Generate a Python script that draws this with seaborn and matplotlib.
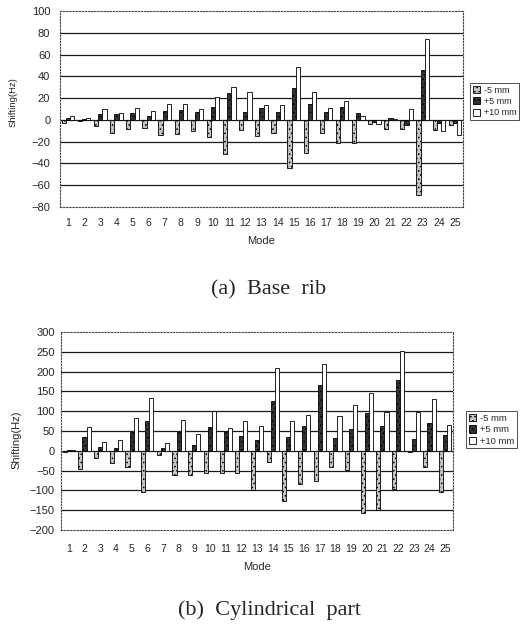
import matplotlib
matplotlib.use("Agg")
import matplotlib.pyplot as plt
import numpy as np
import pandas as pd
import seaborn as sns

# ---- data: frequency shift per mode for three thickness changes ----
modes = list(range(1, 26))
cases = ["-5 mm", "+5 mm", "+10 mm"]

base_m5 = [-3, -1, -6, -12, -8, -7, -14, -13, -10, -16, -31, -9, -15,
           -12, -44, -30, -12, -21, -21, -4, -8, -8, -69, -9, -5]
base_p5 = [2, 1, 5, 5, 6, 4, 8, 9, 7, 12, 25, 7, 11,
           7, 29, 15, 7, 12, 6, -2, 2, -5, 46, -3, -3]
base_p10 = [4, 2, 10, 6, 11, 8, 15, 15, 10, 21, 30, 26, 14,
            14, 49, 26, 11, 17, 4, -4, 1, 10, 74, -10, -14]

cyl_m5 = [-3, -45, -19, -30, -41, -103, -10, -62, -62, -55, -55, -55, -100,
          -28, -127, -85, -76, -42, -49, -158, -150, -97, -3, -42, -103]
cyl_p5 = [2, 36, 10, 6, 47, 76, 8, 47, 15, 60, 47, 38, 27,
          125, 34, 62, 165, 32, 55, 95, 62, 180, 30, 70, 41]
cyl_p10 = [1, 59, 23, 28, 82, 133, 19, 78, 42, 100, 58, 76, 63,
           210, 74, 91, 220, 87, 116, 145, 99, 252, 99, 130, 64]

sns.set_theme(style="white")
plt.rcParams["font.family"] = ["Liberation Sans", "DejaVu Sans"]
plt.rcParams["hatch.linewidth"] = 0.6

W, H = 528, 626
fig = plt.figure(figsize=(W / 100, H / 100), dpi=100)

fills = ["#c4c4c4", "#333333", "#ffffff"]
hatches = ["....", "....", ""]


def px_axes(left, top, right, bottom):
    return fig.add_axes([left / W, 1 - bottom / H, (right - left) / W, (bottom - top) / H])


def panel(ax, m5, p5, p10, ylim, step, tick_fs, tick_pad_x, tick_pad_y,
          ylabel_fs, ylabel_xy, xlabel_y, leg_xy, leg_fs):
    df = pd.DataFrame({
        "Mode": modes * 3,
        "Shifting": m5 + p5 + p10,
        "Case": [cases[0]] * 25 + [cases[1]] * 25 + [cases[2]] * 25,
    })
    sns.barplot(data=df, x="Mode", y="Shifting", hue="Case", hue_order=cases,
                palette=fills, saturation=1, width=0.78, edgecolor="black",
                linewidth=0.6, legend=False, ax=ax, zorder=3)
    for cont, hatch in zip(ax.containers, hatches):
        for bar in cont:
            bar.set_hatch(hatch)

    ax.set_xlim(-0.5, 24.5)
    ax.set_ylim(*ylim)
    ticks = np.arange(ylim[0], ylim[1] + step / 2, step)
    ax.set_yticks(ticks)
    for t in ticks[1:-1]:
        ax.axhline(t, color="#1a1a1a", lw=0.9, zorder=1)

    # dotted frame around the plotting area
    for sp in ax.spines.values():
        sp.set_visible(True)
        sp.set_linestyle((0, (1.2, 1.6)))
        sp.set_color("#444444")
        sp.set_linewidth(0.8)

    ax.tick_params(axis="x", length=0, labelsize=tick_fs, pad=tick_pad_x)
    ax.tick_params(axis="y", length=0, labelsize=tick_fs + 0.5, pad=tick_pad_y)

    ax.set_ylabel("Shifting(Hz)", fontsize=ylabel_fs)
    ax.yaxis.set_label_coords(*ylabel_xy)
    ax.set_xlabel("Mode", fontsize=8)
    ax.xaxis.set_label_coords(0.5, xlabel_y)

    leg = ax.legend(ax.containers, cases, loc="upper left",
                    bbox_to_anchor=(leg_xy[0] / W, 1 - leg_xy[1] / H),
                    bbox_transform=fig.transFigure, fontsize=leg_fs,
                    frameon=True, fancybox=False, edgecolor="black",
                    handlelength=0.8, handleheight=0.8, handletextpad=0.4,
                    borderpad=0.3, labelspacing=0.25, borderaxespad=0)
    leg.get_frame().set_linewidth(0.6)


ax1 = px_axes(60, 11, 463, 207)
panel(ax1, base_m5, base_p5, base_p10, (-80, 100), 20, 7.5, 8, 7,
      6.8, (-0.105, 0.536), -0.148, (470, 83), 6.5)

ax2 = px_axes(61, 332, 453, 530)
panel(ax2, cyl_m5, cyl_p5, cyl_p10, (-200, 300), 50, 7.5, 10, 4.5,
      8, (-0.1, 0.455), -0.162, (466, 411), 6.8)

fig.text(269 / W, 1 - 290 / H, "(a)  Base  rib", ha="center", va="center",
         fontsize=16, family="Liberation Serif")
fig.text(269 / W, 1 - 610 / H, "(b)  Cylindrical  part", ha="center",
         va="center", fontsize=16, family="Liberation Serif")

fig.savefig("out.png", dpi=100)
